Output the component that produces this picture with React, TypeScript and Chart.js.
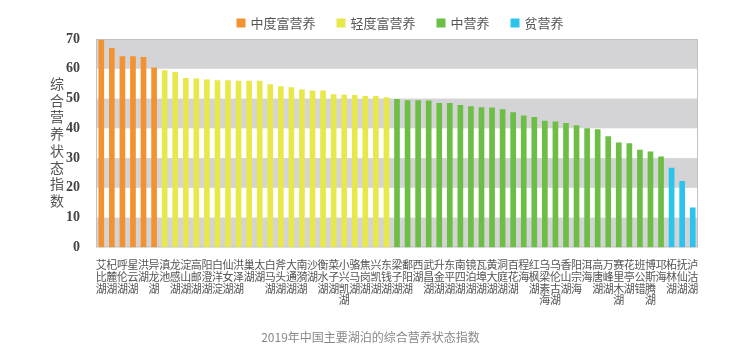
import { useEffect, useRef } from "react";
import { Chart, registerables } from "chart.js";

Chart.register(...registerables);

const lakes = [
  "艾比湖", "杞麓湖", "呼伦湖", "星云湖", "洪湖", "异龙湖",
  "滇池", "龙感湖", "淀山湖", "高邮湖", "阳澄湖", "白洋淀", "仙女湖", "洪泽湖", "巢湖", "太湖",
  "白马湖", "斧头湖", "大通湖", "南漪湖", "沙湖", "衡水湖", "菜子湖", "小兴凯湖", "骆马湖", "焦岗湖", "兴凯湖", "东钱湖",
  "梁子湖", "鄱阳湖", "西湖", "武昌湖", "升金湖", "东平湖", "南四湖", "镜泊湖", "瓦埠湖", "黄大湖", "洞庭湖", "百花湖",
  "程海", "红枫湖", "乌梁素海", "乌伦古湖", "香山湖", "阳宗海", "洱海", "高唐湖", "万峰湖", "赛里木湖", "花亭湖", "班公错",
  "博斯腾湖", "邛海",
  "柘林湖", "抚仙湖", "泸沽湖",
];

const values = [
  69.6, 66.9, 64.1, 64.1, 63.8, 60.3,
  59.4, 58.8, 56.8, 56.6, 56.3, 56.0, 56.0, 55.9, 55.9, 55.9,
  54.7, 54.0, 53.7, 52.9, 52.6, 52.6, 51.3, 51.2, 51.1, 50.7, 50.7, 50.3,
  49.7, 49.3, 49.3, 49.2, 48.4, 48.4, 47.7, 47.3, 47.0, 46.9, 46.3, 45.3,
  44.2, 43.7, 42.4, 42.2, 41.7, 40.9, 39.9, 39.6, 37.2, 35.1, 34.9, 32.7,
  32.1, 30.4,
  26.6, 22.2, 13.3,
];

const groupNames = ["中度富营养", "轻度富营养", "中营养", "贫营养"];
const groupSizes = [6, 22, 26, 3];
const groupColors = ["#F39230", "#E8E84A", "#6CBE45", "#2CC3EC"];
const yTicks = [0, 10, 20, 30, 40, 50, 60, 70];
const yTitle = "综合营养状态指数";
const caption = "2019年中国主要湖泊的综合营养状态指数";

function groupIndexOf(i: number): number {
  let acc = 0;
  for (let g = 0; g < groupSizes.length; g++) {
    acc += groupSizes[g];
    if (i < acc) return g;
  }
  return groupSizes.length - 1;
}

const CJK = '"Noto Sans CJK SC", "Noto Sans", sans-serif';

const decorPlugin = {
  id: "decor",
  beforeDatasetsDraw(chart: any) {
    const { ctx, chartArea: a, scales } = chart;
    const y = scales.y;
    ctx.save();
    for (let i = 0; i < yTicks.length - 1; i++) {
      if (i % 2 === 0) {
        const y1 = y.getPixelForValue(yTicks[i]);
        const y2 = y.getPixelForValue(yTicks[i + 1]);
        ctx.fillStyle = "#d4d4d6";
        ctx.fillRect(a.left, y2, a.right - a.left, y1 - y2);
      }
    }
    ctx.strokeStyle = "#c2c2c4";
    ctx.lineWidth = 1;
    ctx.strokeRect(a.left + 0.5, a.top + 0.5, a.right - a.left - 1, a.bottom - a.top - 1);
    ctx.restore();
  },
  afterDraw(chart: any) {
    const { ctx, chartArea: a } = chart;
    ctx.save();
    // vertical y-axis title
    ctx.fillStyle = "#555";
    ctx.font = `14px ${CJK}`;
    ctx.textAlign = "center";
    ctx.textBaseline = "middle";
    const chars = Array.from(yTitle);
    const step = 16.7;
    const cy = (a.top + a.bottom) / 2 - 1;
    const startY = cy - ((chars.length - 1) * step) / 2;
    chars.forEach((c, k) => ctx.fillText(c, 57, startY + k * step));

    // legend
    ctx.font = `13px ${CJK}`;
    ctx.textAlign = "left";
    const box = 9, gapText = 5, gapItem = 21;
    const widths = groupNames.map((n) => box + gapText + ctx.measureText(n).width);
    const total = widths.reduce((s, w) => s + w, 0) + gapItem * (widths.length - 1);
    let x = 400 - total / 2;
    const ly = 23;
    groupNames.forEach((n, g) => {
      ctx.fillStyle = groupColors[g];
      ctx.fillRect(x, ly - box / 2, box, box);
      ctx.fillStyle = "#555";
      ctx.fillText(n, x + box + gapText, ly + 0.5);
      x += widths[g] + gapItem;
    });
    ctx.restore();
  },
};

export default function App() {
  const ref = useRef<HTMLCanvasElement | null>(null);

  useEffect(() => {
    if (!ref.current) return;
    const datasets = groupNames.map((name, g) => ({
      label: name,
      data: values.map((v, i) => (groupIndexOf(i) === g ? v : null)),
      backgroundColor: groupColors[g],
      borderWidth: 0,
      barThickness: 5,
      grouped: false,
    }));
    const chart = new Chart(ref.current, {
      type: "bar",
      data: {
        labels: lakes.map((n) => Array.from(n)),
        datasets,
      },
      options: {
        animation: false,
        responsive: false,
        maintainAspectRatio: false,
        layout: { padding: { left: 58, right: 58, top: 39, bottom: 47 } },
        plugins: {
          legend: { display: false },
          tooltip: { enabled: false },
        },
        scales: {
          x: {
            grid: { display: false },
            border: { display: false },
            ticks: {
              autoSkip: false,
              maxRotation: 0,
              minRotation: 0,
              padding: 4,
              color: "#555",
              font: { family: CJK, size: 11, lineHeight: 1.06 },
            },
          },
          y: {
            min: 0,
            max: 70,
            grid: { display: false },
            border: { display: false },
            afterBuildTicks: (s: any) => {
              s.ticks = yTicks.map((v) => ({ value: v }));
            },
            ticks: {
              padding: 8,
              color: "#444",
              font: { family: '"Liberation Serif", "DejaVu Serif", serif', size: 14, weight: "bold" },
            },
          },
        },
      },
      plugins: [decorPlugin],
    });
    return () => chart.destroy();
  }, []);

  return (
    <div style={{ position: "fixed", left: 0, top: 0, width: 756, height: 357, background: "#fff" }}>
      <canvas ref={ref} width={756} height={357} style={{ position: "absolute", left: 0, top: 0 }} />
      <div
        style={{
          position: "absolute",
          left: 0,
          width: 741,
          top: 329,
          textAlign: "center",
          fontFamily: CJK,
          fontSize: 12,
          lineHeight: "16px",
          color: "#888",
        }}
      >
        {caption}
      </div>
    </div>
  );
}
